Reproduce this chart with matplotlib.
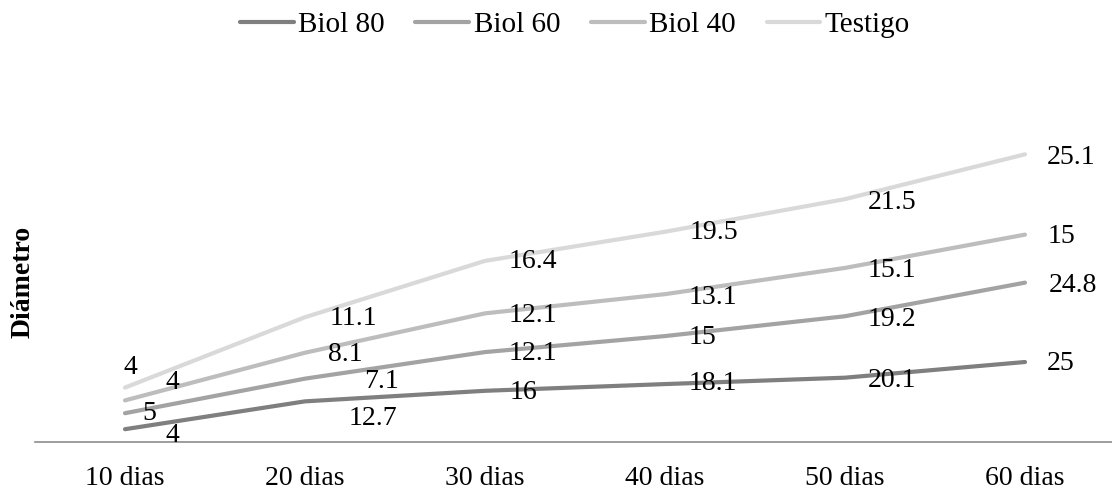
import matplotlib.pyplot as plt
import numpy as np

dias = ["10 dias", "20 dias", "30 dias", "40 dias", "50 dias", "60 dias"]
biol_80 = [4, 12.7, 16, 18.1, 20.1, 25]
biol_60 = [5, 7.1, 12.1, 15, 19.2, 24.8]
biol_40 = [4, 8.1, 12.1, 13.1, 15.1, 15]
testigo = [4, 11.1, 16.4, 19.5, 21.5, 25.1]

series = [("Biol 80", biol_80), ("Biol 60", biol_60), ("Biol 40", biol_40), ("Testigo", testigo)]
colors = ["#7f7f7f", "#a3a3a3", "#bdbdbd", "#d9d9d9"]

# label offsets (pixels, right / up), per series
offsets = [
    [(47, -6), (68, -17), (38, -2), (48, 1), (47, -3), (36, -2)],
    [(24, 0), (77, -3), (48, -1), (37, -1), (47, -3), (48, -3)],
    [(47, 18), (40, -2), (48, -2), (48, -3), (47, -3), (36, -2)],
    [(5, 20), (48, -1), (48, -1), (49, -1), (47, -3), (46, -3)],
]

plt.rcParams['font.family'] = ['Liberation Serif', 'DejaVu Serif']
fs = 20

fig = plt.figure(figsize=(11.12, 4.93), dpi=100)
ax = fig.add_axes([35 / 1112, 51 / 493, 1080 / 1112, 320 / 493])

x = np.arange(len(dias))
bottom = np.zeros(len(dias))
for (name, vals), col, offs in zip(series, colors, offsets):
    top = bottom + np.array(vals)
    ax.plot(x, top, color=col, lw=3, label=name, solid_capstyle='round')
    for xi, yi, v, (dx, dy) in zip(x, top, vals, offs):
        ax.annotate(f"{v:g}", (xi, yi), xytext=(dx, dy), textcoords='offset pixels',
                    ha='center', va='center', fontsize=fs)
    bottom = top

ax.set_xlim(-0.5, 5.5)
ax.set_ylim(0, 100)
ax.set_xticks(x)
ax.set_xticklabels(dias, fontsize=fs)
ax.tick_params(axis='x', length=0, pad=17.5)
ax.set_yticks([])
for s in ["top", "right", "left"]:
    ax.spines[s].set_visible(False)
ax.spines["bottom"].set_color("#8c8c8c")
ax.spines["bottom"].set_linewidth(1.2)

fig.text(23 / 1112, 211 / 493, "Diámetro", rotation=90, ha='center', va='center',
         fontsize=fs, fontweight='bold')

fig.legend(loc='center', bbox_to_anchor=(575 / 1112, 1 - 25 / 493), ncol=4,
           frameon=False, fontsize=21, handlelength=1.85, handletextpad=0.15, columnspacing=1.05)

fig.savefig("out.png", dpi=100)
